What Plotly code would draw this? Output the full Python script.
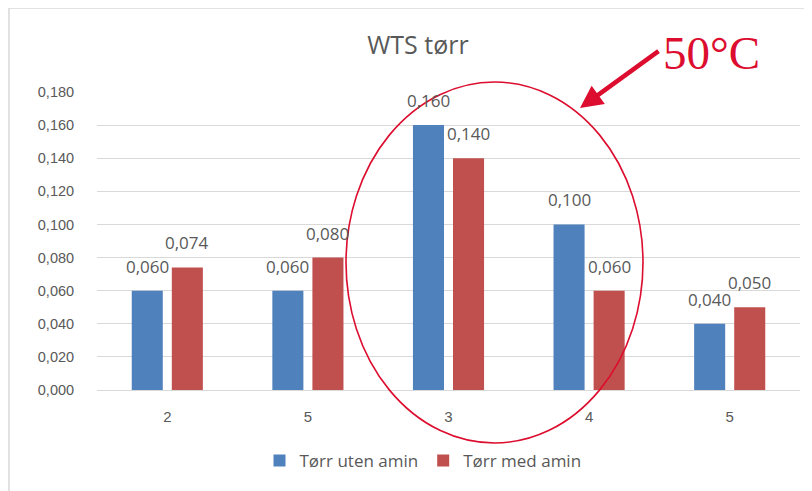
import plotly.graph_objects as go

categories = ["2", "5", "3", "4", "5"]
series_names = ["Tørr uten amin", "Tørr med amin"]
uten_amin = [0.060, 0.060, 0.160, 0.100, 0.040]
med_amin = [0.074, 0.080, 0.140, 0.060, 0.050]
y_ticks = [0.0, 0.02, 0.04, 0.06, 0.08, 0.10, 0.12, 0.14, 0.16, 0.18]
title_text = "WTS tørr"
callout_text = "50°C"

colors = ["#4F81BD", "#C0504D"]
gray = "#595959"
crimson = "#DC0D2E"

# the page body has an 8px margin; work in page pixels and shift
OFF = 8
W, H = 812 - OFF, 491 - OFF
plot_l, plot_r, plot_t, plot_b = 97, 800, 92, 390  # page pixels
ml = plot_l - OFF
mr = W - (plot_r - OFF)
mt = plot_t - OFF
mb = H - (plot_b - OFF)
pw = plot_r - plot_l
ph = plot_b - plot_t

def px_x(p):
    return (p - plot_l) / pw

def px_y(p):
    return (plot_b - p) / ph

xs = list(range(len(categories)))
bargap = 0.43
slot = (1 - bargap) / 2

fig = go.Figure()
for name, vals, col in zip(series_names, [uten_amin, med_amin], colors):
    fig.add_trace(go.Bar(x=xs, y=vals, name=name, marker_color=col,
                         marker_line_width=0))

annotations = []
for k, vals in enumerate([uten_amin, med_amin]):
    off = (-slot / 2) if k == 0 else (slot / 2)
    for i, v in enumerate(vals):
        annotations.append(dict(
            x=i + off, y=v, xref="x", yref="y",
            text=f"{v:.3f}".replace(".", ","),
            showarrow=False, yanchor="bottom", yshift=11,
            font=dict(family="Open Sans", size=17, color=gray)))

# arrow
annotations.append(dict(
    x=px_x(580), y=px_y(108), xref="paper", yref="paper",
    ax=80, ay=-58, axref="pixel", ayref="pixel",
    text="", showarrow=True, arrowhead=2, arrowsize=1, arrowwidth=4.5,
    arrowcolor=crimson))
annotations.append(dict(
    x=px_x(711), y=px_y(53), xref="paper", yref="paper",
    text=callout_text, showarrow=False, xanchor="center", yanchor="middle",
    font=dict(family="Liberation Serif", size=47, color=crimson)))

shapes = [
    dict(type="rect", xref="paper", yref="paper",
         x0=px_x(9), x1=1.2, y0=-0.6, y1=px_y(8),
         line=dict(color="#D9D9D9", width=1.5), layer="below"),
    dict(type="circle", xref="paper", yref="paper",
         x0=px_x(346), x1=px_x(643), y0=px_y(443), y1=px_y(82),
         line=dict(color=crimson, width=1.6), layer="above"),
]

fig.update_layout(
    width=W, height=H,
    margin=dict(l=ml, r=mr, t=mt, b=mb, autoexpand=False),
    paper_bgcolor="white", plot_bgcolor="white",
    separators=",.",
    barmode="group", bargap=bargap, bargroupgap=0.225,
    title=dict(text=title_text, x=(418 - OFF) / W, xref="container",
               xanchor="center", y=1 - (45 - OFF) / H, yref="container",
               yanchor="middle",
               font=dict(family="Open Sans", size=25, color=gray)),
    xaxis=dict(tickmode="array", tickvals=xs, ticktext=categories,
               range=[-0.5, len(categories) - 0.5],
               showline=True, linecolor="#D9D9D9", linewidth=1,
               showgrid=False, zeroline=False,
               ticks="outside", ticklen=13, tickcolor="rgba(0,0,0,0)",
               tickfont=dict(family="Liberation Sans", size=15, color=gray)),
    yaxis=dict(range=[0, 0.18], tickmode="array", tickvals=y_ticks,
               tickformat=".3f", showgrid=True, gridcolor="#D9D9D9",
               gridwidth=1, zeroline=False, showline=False,
               ticks="outside", ticklen=19, tickcolor="rgba(0,0,0,0)",
               tickfont=dict(family="Liberation Sans", size=14.5, color=gray)),
    legend=dict(orientation="h", x=px_x(423), xanchor="center",
                y=px_y(461), yanchor="middle",
                font=dict(family="Open Sans", size=17, color=gray),
                itemwidth=30, traceorder="normal", bgcolor="rgba(0,0,0,0)"),
    annotations=annotations,
    shapes=shapes,
)

fig.write_html("out.html")
